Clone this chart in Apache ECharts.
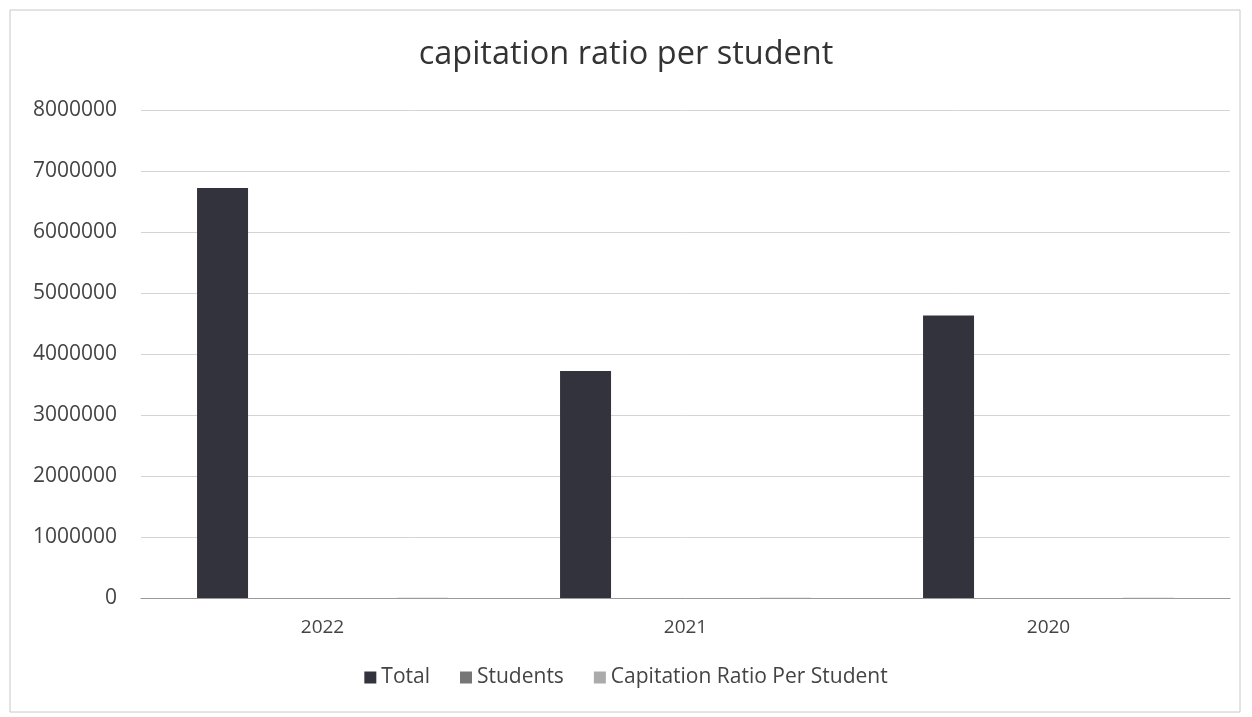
<!DOCTYPE html>
<html>
<head>
<meta charset="utf-8">
<script src="https://cdn.jsdelivr.net/npm/echarts@6/dist/echarts.min.js"></script>
<style>
  html, body { margin: 0; padding: 0; background: #ffffff; }
  #chart { width: 1252px; height: 717px; }
</style>
</head>
<body>
<div id="chart"></div>
<script>
// Capitation figures by academic year
const years = ['2022', '2021', '2020'];
const totalAmount = [6720000, 3720000, 4630000];
const students = [1450, 1380, 1300];
const capitationPerStudent = [4630, 2700, 3560];
const yTicks = { min: 0, max: 8000000, step: 1000000 };

const FONT = '"Open Sans", "Liberation Sans", sans-serif';

const chart = echarts.init(document.getElementById('chart'));
chart.setOption({
  backgroundColor: '#ffffff',
  animation: false,
  title: {
    text: 'capitation ratio per student',
    left: 'center',
    top: 33,
    textStyle: { fontFamily: FONT, fontSize: 32.5, fontWeight: 'normal', color: '#333333' }
  },
  graphic: [{
    type: 'rect',
    shape: { x: 10, y: 10, width: 1230, height: 702 },
    style: { fill: 'none', stroke: '#c8c8c8', lineWidth: 1 },
    silent: true
  }],
  legend: {
    bottom: 24,
    left: 'center',
    itemWidth: 12,
    itemHeight: 12,
    itemGap: 30,
    icon: 'rect',
    textStyle: { fontFamily: FONT, fontSize: 21, color: '#444444' },
    data: ['Total', 'Students', 'Capitation Ratio Per Student']
  },
  grid: { left: 141, right: 22, top: 110, bottom: 119, containLabel: false },
  xAxis: {
    type: 'category',
    data: years,
    axisLine: { lineStyle: { color: '#9a9a9a' } },
    axisTick: { show: false },
    axisLabel: { fontFamily: FONT, fontSize: 19, color: '#444444', margin: 20 }
  },
  yAxis: {
    type: 'value',
    min: yTicks.min,
    max: yTicks.max,
    interval: yTicks.step,
    axisLine: { show: false },
    axisTick: { show: false },
    axisLabel: {
      fontFamily: FONT, fontSize: 21, color: '#444444', margin: 24,
      formatter: (v) => String(v)
    },
    splitLine: { lineStyle: { color: '#d4d4d4' } }
  },
  series: [
    {
      name: 'Total', type: 'bar', data: totalAmount,
      barWidth: 51, barGap: '96%',
      itemStyle: { color: '#33333d' }
    },
    {
      name: 'Students', type: 'bar', data: students,
      barWidth: 51, barGap: '96%',
      itemStyle: { color: '#767676' }
    },
    {
      name: 'Capitation Ratio Per Student', type: 'bar', data: capitationPerStudent,
      barWidth: 51, barGap: '96%',
      itemStyle: { color: '#ababab' }
    }
  ]
});
</script>
</body>
</html>
